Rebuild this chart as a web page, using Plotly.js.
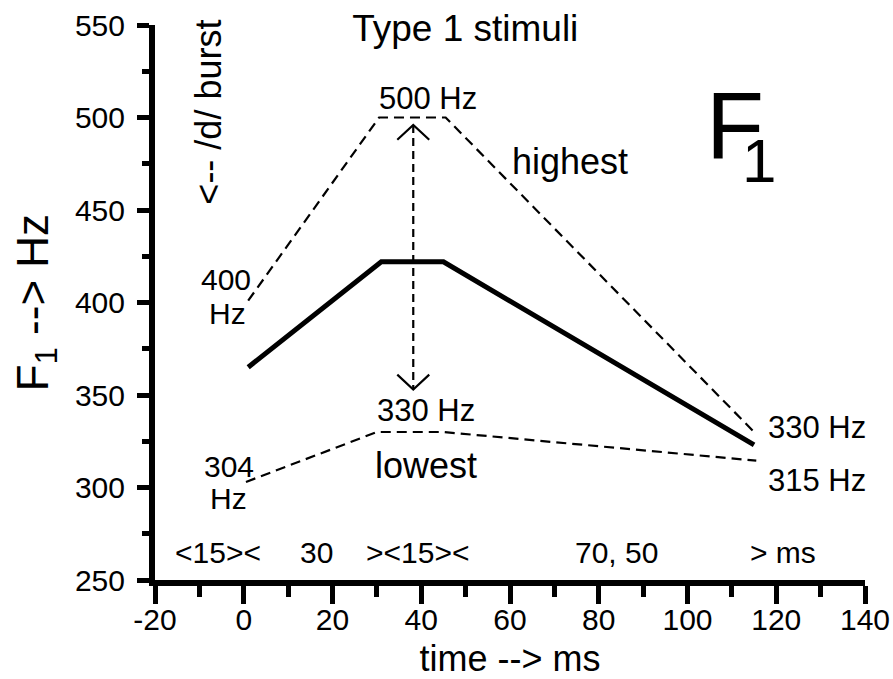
<!DOCTYPE html>
<html>
<head>
<meta charset="utf-8">
<script src="https://cdn.plot.ly/plotly-3.0.1.min.js"></script>
<style>html,body{margin:0;padding:0;background:#fff;}#chart{width:893px;height:679px;}</style>
</head>
<body>
<div id="chart"></div>
<script>
// ---- data ----
const meanTime = [1, 31, 45, 115];
const meanF1 = [365, 422, 422, 323];
const highTime = [1, 30.5, 45.5, 115];
const highF1 = [401, 500, 500, 330];
const lowTime = [0.5, 30, 45, 115.5];
const lowF1 = [303, 330, 330, 314.5];
const rangeArrowTime = [38.2, 38.2];
const rangeArrowF1 = [496, 353];
const xTickVals = [-20, 0, 20, 40, 60, 80, 100, 120, 140];
const xTickText = ["-20", "0", "20", "40", "60", "80", "100", "120", "140"];
const yTickVals = [250, 300, 350, 400, 450, 500, 550];
const yTickText = ["250", "300", "350", "400", "450", "500", "550"];
const segmentLabels = ["&lt;15&gt;&lt;", "30", "&gt;&lt;15&gt;&lt;", "70, 50", "&gt; ms"];
const segmentLabelTime = [-5.7, 16.4, 39.2, 84, 121.6];

// ---- drawing ----
const FONT = "Liberation Sans, Arial, Helvetica, sans-serif";
const hw = 3.6, hh = 8; // arrowhead size in data units
const ax = rangeArrowTime[0], yTop = rangeArrowF1[0], yBot = rangeArrowF1[1];

const traces = [
  {x: highTime, y: highF1, mode: "lines", line: {color: "#000", width: 2.2, dash: "10px,6px"}, hoverinfo: "skip"},
  {x: lowTime, y: lowF1, mode: "lines", line: {color: "#000", width: 2.2, dash: "10px,6px"}, hoverinfo: "skip"},
  {x: meanTime, y: meanF1, mode: "lines", line: {color: "#000", width: 5}, hoverinfo: "skip"},
  {x: rangeArrowTime, y: rangeArrowF1, mode: "lines", line: {color: "#000", width: 2.2, dash: "8px,5px"}, hoverinfo: "skip"},
  {x: [ax - hw, ax, ax + hw, null, ax - hw, ax, ax + hw],
   y: [yTop - hh, yTop, yTop - hh, null, yBot + hh, yBot, yBot + hh],
   mode: "lines", line: {color: "#000", width: 2.2}, hoverinfo: "skip"}
];

function ann(x, y, text, size, extra) {
  return Object.assign({x: x, y: y, xref: "x", yref: "y", text: text, showarrow: false,
    font: {family: FONT, size: size, color: "#000"}, xanchor: "center", yanchor: "middle"}, extra || {});
}

const annotations = [
  ann(41.6, 510.5, "500 Hz", 31),
  ann(73.6, 476, "highest", 36),
  ann(-4.1, 412.7, "400", 30),
  ann(-3.7, 393.8, "Hz", 30),
  ann(-3.4, 311.6, "304", 30),
  ann(-3.4, 294.3, "Hz", 30),
  ann(41.1, 341.6, "330 Hz", 31),
  ann(41.1, 312, "lowest", 36),
  ann(129.1, 332.7, "330 Hz", 31),
  ann(129.1, 304, "315 Hz", 31),
  ann(-7.9, 503, "&lt;-- /d/ burst", 36, {textangle: -90}),
  ann(110.8, 495.9, "F", 95),
  ann(116.0, 476.5, "1", 62)
];
segmentLabels.forEach((t, i) => annotations.push(ann(segmentLabelTime[i], 264.6, t, 30)));

const layout = {
  width: 893, height: 679,
  margin: {l: 155, r: 28, t: 25, b: 99},
  paper_bgcolor: "#fff", plot_bgcolor: "#fff",
  showlegend: false,
  font: {family: FONT, color: "#000"},
  title: {text: "Type 1 stimuli", font: {family: FONT, size: 37, color: "#000"},
          x: 0.521, xref: "container", xanchor: "center", y: 0.959, yref: "container", yanchor: "middle"},
  xaxis: {
    range: [-20, 140], tickmode: "array", tickvals: xTickVals, ticktext: xTickText,
    ticks: "outside", ticklen: 18, tickwidth: 5, tickcolor: "#000", ticklabelstandoff: -10,
    showline: true, linewidth: 6, linecolor: "#000", showgrid: false, zeroline: false,
    tickfont: {family: FONT, size: 30, color: "#000"},
    minor: {tickmode: "linear", tick0: -20, dtick: 10, ticks: "outside", ticklen: 11, tickwidth: 5, tickcolor: "#000", showgrid: false},
    title: {text: "time --&gt; ms", font: {family: FONT, size: 36, color: "#000"}, standoff: 17},
    fixedrange: true
  },
  yaxis: {
    range: [250, 550], tickmode: "array", tickvals: yTickVals, ticktext: yTickText,
    ticks: "outside", ticklen: 12, tickwidth: 5, tickcolor: "#000", ticklabelstandoff: 6,
    showline: true, linewidth: 6, linecolor: "#000", showgrid: false, zeroline: false,
    tickfont: {family: FONT, size: 30, color: "#000"},
    minor: {tickmode: "linear", tick0: 250, dtick: 25, ticks: "outside", ticklen: 7, tickwidth: 5, tickcolor: "#000", showgrid: false},
    title: {text: "F<sub>1</sub> --&gt; Hz", font: {family: FONT, size: 44, color: "#000"}, standoff: 15},
    fixedrange: true
  },
  annotations: annotations
};

Plotly.newPlot("chart", traces, layout, {displayModeBar: false, staticPlot: true});
</script>
</body>
</html>
